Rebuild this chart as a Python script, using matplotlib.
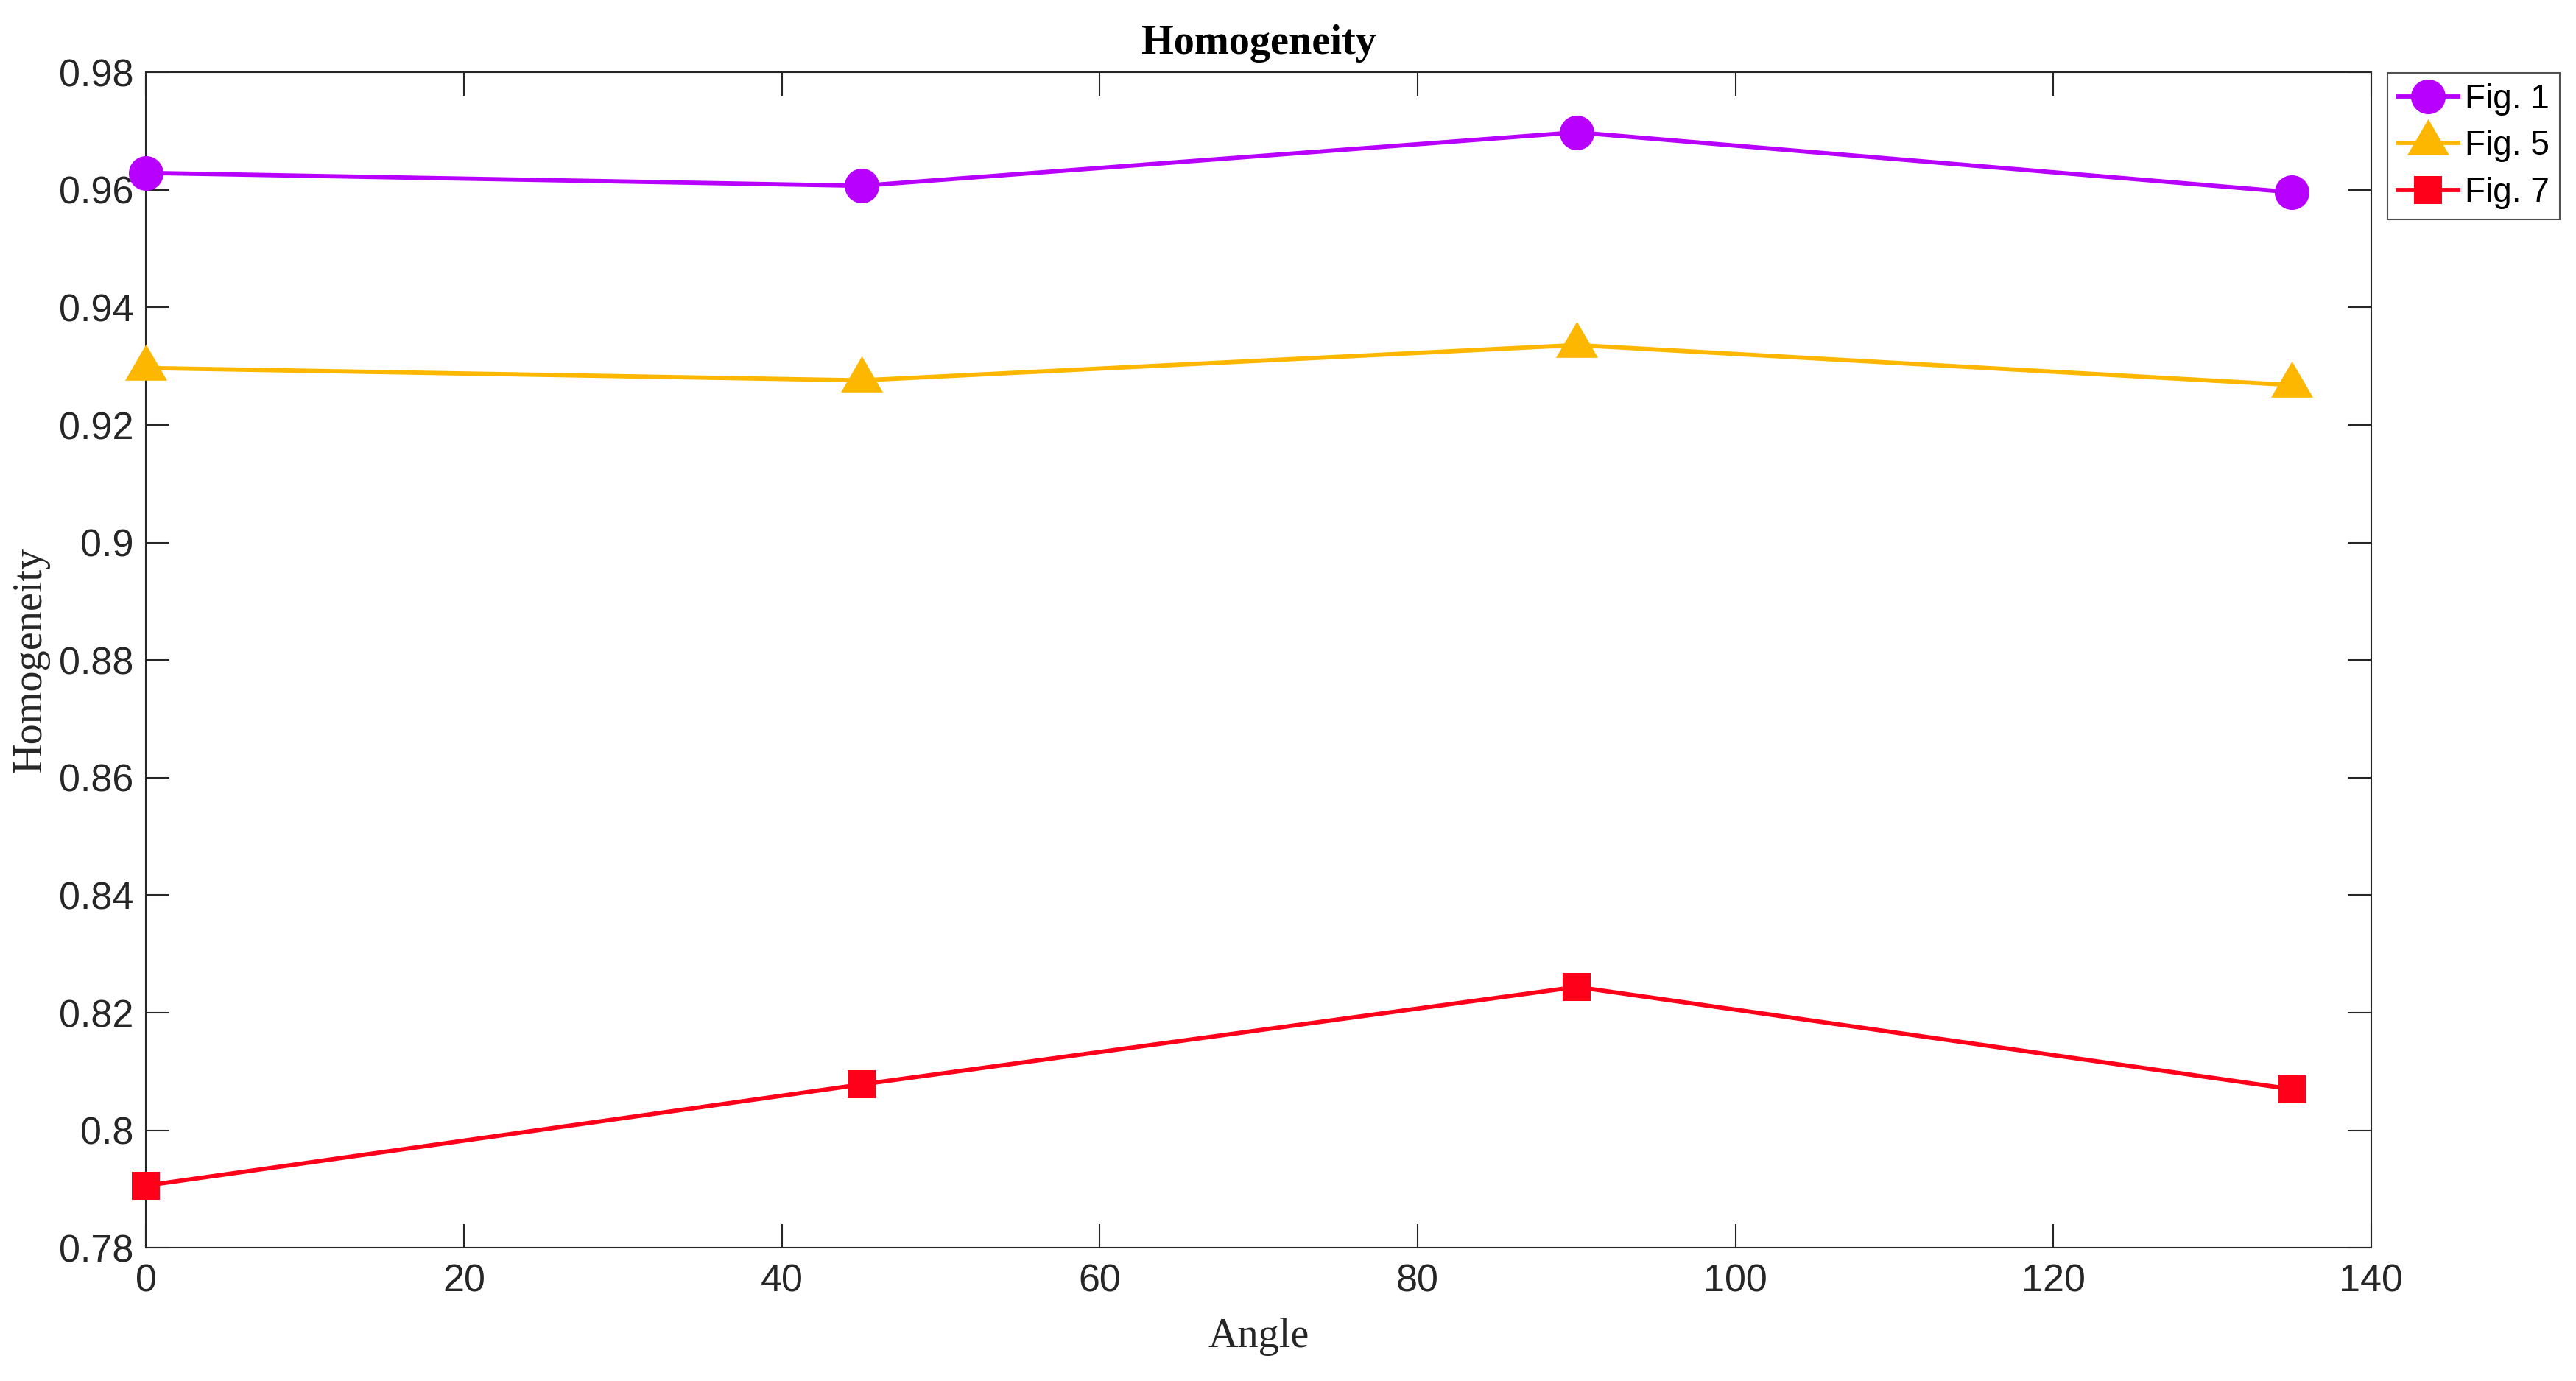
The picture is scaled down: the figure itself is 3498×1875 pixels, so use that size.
import matplotlib
matplotlib.use("Agg")
import matplotlib.pyplot as plt

# data
angles = [0, 45, 90, 135]
fig1_vals = [0.9629, 0.9607, 0.9698, 0.9596]
fig5_vals = [0.9297, 0.9276, 0.9336, 0.9268]
fig7_vals = [0.7906, 0.8078, 0.8244, 0.8070]
series_names = ["Fig. 1", "Fig. 5", "Fig. 7"]

x_ticks = [0, 20, 40, 60, 80, 100, 120, 140]
y_ticks = [0.78, 0.80, 0.82, 0.84, 0.86, 0.88, 0.90, 0.92, 0.94, 0.96, 0.98]
y_tick_labels = ["0.78", "0.8", "0.82", "0.84", "0.86", "0.88", "0.9",
                 "0.92", "0.94", "0.96", "0.98"]

AXIS_GREY = "#262626"
SANS = "Liberation Sans"
SERIF = "Liberation Serif"

# MATLAB-style triangle: wider than tall, centred on its centroid
tri_marker = [(0.0, 32.7), (-28.5, -16.3), (28.5, -16.3), (0.0, 32.7)]

fig = plt.figure(figsize=(3498 / 300, 1875 / 300), dpi=300)
ax = fig.add_axes([0.0567, 0.0964, 0.8638, 0.8512])

styles = [
    dict(color="#B800FF", marker="o", markersize=11.3),
    dict(color="#FDB700", marker=tri_marker, markersize=15.7),
    dict(color="#FF001A", marker="s", markersize=9.3),
]
for vals, name, st in zip([fig1_vals, fig5_vals, fig7_vals], series_names, styles):
    ax.plot(angles, vals, label=name, linewidth=1.4, markeredgewidth=0,
            clip_on=False, zorder=3, **st)

ax.set_xlim(0, 140)
ax.set_ylim(0.78, 0.98)
ax.set_xticks(x_ticks)
ax.set_xticklabels([str(t) for t in x_ticks])
ax.set_yticks(y_ticks)
ax.set_yticklabels(y_tick_labels)

ax.tick_params(axis="both", direction="in", length=7.6, width=0.5,
               color=AXIS_GREY, labelcolor=AXIS_GREY, labelsize=12.5,
               top=True, right=True)
ax.tick_params(axis="x", pad=5)
ax.tick_params(axis="y", pad=4)
for lab in ax.get_xticklabels() + ax.get_yticklabels():
    lab.set_fontfamily(SANS)
for sp in ax.spines.values():
    sp.set_color(AXIS_GREY)
    sp.set_linewidth(0.5)

ax.set_title("Homogeneity", fontfamily=SERIF, fontweight="bold",
             fontsize=13.5, color="black", pad=6)
ax.set_xlabel("Angle", fontfamily=SERIF, fontsize=13.5, color=AXIS_GREY,
              labelpad=6)
ax.set_ylabel("Homogeneity", fontfamily=SERIF, fontsize=13.5,
              color=AXIS_GREY, labelpad=3)

leg = ax.legend(loc="upper left", bbox_to_anchor=(3242 / 3498, 1 - 99 / 1875),
                bbox_transform=fig.transFigure, borderaxespad=0,
                prop={"family": SANS, "size": 11}, frameon=True,
                fancybox=False, handlelength=1.8, handletextpad=0.2,
                labelspacing=0.43, borderpad=0.3)
leg.get_frame().set_edgecolor(AXIS_GREY)
leg.get_frame().set_linewidth(0.5)

fig.savefig("out.png", dpi=300, facecolor="white")
